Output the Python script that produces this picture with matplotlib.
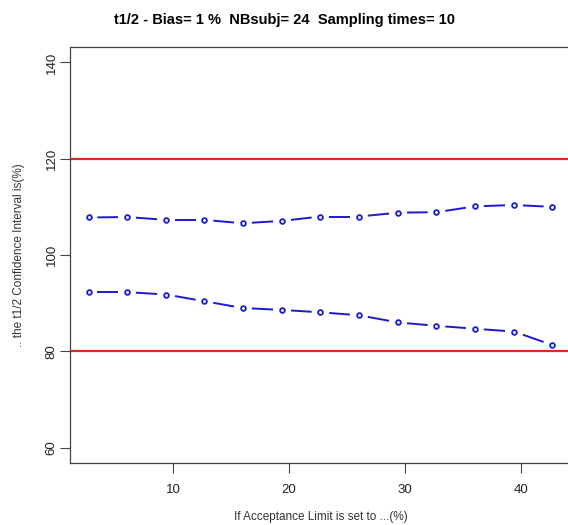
import matplotlib.pyplot as plt
import numpy as np

plt.rcParams['font.family'] = ['Liberation Sans', 'DejaVu Sans']

# acceptance limit (%) and CI bounds (%)
limit = [2.7, 6.0, 9.4, 12.7, 16.0, 19.4, 22.7, 26.0, 29.4, 32.7, 36.0, 39.4, 42.7]
upper = [107.8, 107.9, 107.3, 107.3, 106.6, 107.1, 108.0, 108.0, 108.8, 108.9, 110.1, 110.4, 110.0]
lower = [92.3, 92.3, 91.8, 90.4, 89.0, 88.6, 88.1, 87.5, 86.0, 85.3, 84.7, 84.1, 81.3]
bounds = [80, 120]

fig = plt.figure(figsize=(5.68, 5.25), dpi=100)
ax = fig.add_axes([0.1232, 0.118, 0.882, 0.7924])

ax.set_xlim(1.1, 44.3)
ax.set_ylim(56.8, 143.2)

for b in bounds:
    ax.axhline(b, color='#e8231f', lw=1.6, zorder=1)


def type_b(x, y, gap=0.23):
    # R style type="b": segments that stop short of the points
    x = np.asarray(x, float)
    y = np.asarray(y, float)
    for i in range(len(x) - 1):
        dx, dy = x[i + 1] - x[i], y[i + 1] - y[i]
        ax.plot([x[i] + gap * dx, x[i + 1] - gap * dx],
                [y[i] + gap * dy, y[i + 1] - gap * dy],
                color='#1a1ad0', lw=1.4, solid_capstyle='butt', zorder=2)
    ax.plot(x, y, 'o', ms=3.4, mfc='none', mec='#1a1ad0', mew=1.3, zorder=3)


type_b(limit, upper)
type_b(limit, lower)

ax.set_xticks([10, 20, 30, 40])
ax.set_yticks([60, 80, 100, 120, 140])
ax.tick_params(axis='both', length=7, width=0.8, colors='#444444', labelsize=9.5)
ax.tick_params(axis='x', pad=8, labelcolor='#222222')
ax.tick_params(axis='y', pad=2, labelcolor='#222222')
for lab in ax.get_yticklabels():
    lab.set_rotation(90)
    lab.set_va('center')
for s in ax.spines.values():
    s.set_color('#444444')
    s.set_linewidth(0.9)

ax.set_xlabel('If Acceptance Limit is set to ...(%)', fontsize=8.5, color='#333333', labelpad=11)
ax.set_ylabel('.. the t1/2 Confidence Interval is(%)', fontsize=8.5, color='#333333', labelpad=15)
fig.suptitle('t1/2 - Bias= 1 %  NBsubj= 24  Sampling times= 10',
             fontsize=10.5, fontweight='bold', x=0.5, y=0.975)

fig.savefig('out.png', dpi=100)
